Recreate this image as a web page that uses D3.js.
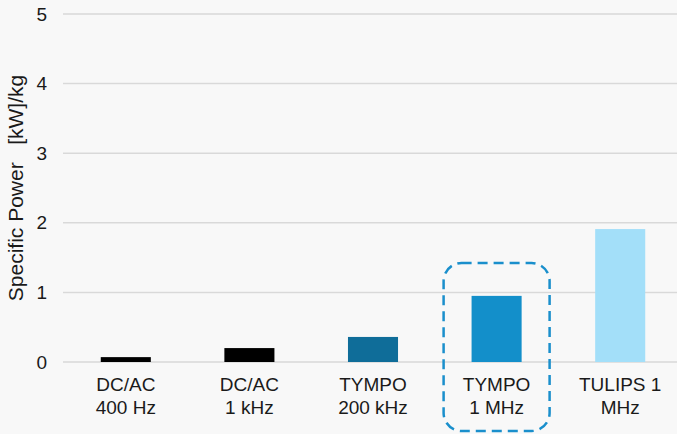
<!DOCTYPE html>
<html>
<head>
<meta charset="utf-8">
<script src="https://cdn.jsdelivr.net/npm/d3@7"></script>
<style>
  html, body { margin: 0; padding: 0; background: #f8f8f8; }
  svg { display: block; font-family: "Liberation Sans", Arial, sans-serif; }
</style>
</head>
<body>
<svg id="chart" width="677" height="434"></svg>
<script>
  const categories = [
    ["DC/AC", "400 Hz"],
    ["DC/AC", "1 kHz"],
    ["TYMPO", "200 kHz"],
    ["TYMPO", "1 MHz"],
    ["TULIPS 1", "MHz"]
  ];
  const values = [0.07, 0.2, 0.36, 0.95, 1.91];
  const barColors = ["#000000", "#000000", "#0f6d99", "#138fca", "#a3dff9"];
  const yTicks = [0, 1, 2, 3, 4, 5];
  const highlighted = 3; // index of the boxed bar

  const svg = d3.select("#chart");

  const x = d3.scaleBand()
    .domain(d3.range(categories.length))
    .range([64, 682])
    .paddingInner(0.595)
    .paddingOuter(0.2975);

  const y = d3.scaleLinear()
    .domain([0, 5])
    .range([362, 14]);

  // gridlines
  svg.append("g")
    .selectAll("line")
    .data(yTicks)
    .join("line")
    .attr("x1", 63)
    .attr("x2", 677)
    .attr("y1", d => y(d))
    .attr("y2", d => y(d))
    .attr("stroke", "#d9d9d9")
    .attr("stroke-width", 1.5);

  // y tick labels
  svg.append("g")
    .selectAll("text")
    .data(yTicks)
    .join("text")
    .attr("x", 47)
    .attr("y", d => y(d))
    .attr("dy", "0.35em")
    .attr("text-anchor", "end")
    .style("font-size", "19px")
    .style("fill", "#1a1a1a")
    .text(d => d);

  // y axis title
  svg.append("text")
    .attr("transform", "translate(23, 188) rotate(-90)")
    .attr("text-anchor", "middle")
    .style("font-size", "21px")
    .style("fill", "#1a1a1a")
    .style("white-space", "pre")
    .text("Specific Power   [kW]/kg");

  // bars
  svg.append("g")
    .selectAll("rect")
    .data(values)
    .join("rect")
    .attr("x", (d, i) => x(i))
    .attr("width", x.bandwidth())
    .attr("y", d => y(d))
    .attr("height", d => y(0) - y(d))
    .attr("fill", (d, i) => barColors[i]);

  // category labels
  const labels = svg.append("g")
    .selectAll("text")
    .data(categories)
    .join("text")
    .attr("x", (d, i) => x(i) + x.bandwidth() / 2)
    .attr("y", 391)
    .attr("text-anchor", "middle")
    .style("font-size", "19px")
    .style("fill", "#1a1a1a");

  labels.selectAll("tspan")
    .data(d => d)
    .join("tspan")
    .attr("x", function () { return this.parentNode.getAttribute("x"); })
    .attr("dy", (d, i) => i === 0 ? 0 : 23)
    .text(d => d);

  // dashed highlight box
  const cx = x(highlighted) + x.bandwidth() / 2;
  svg.append("rect")
    .attr("x", cx - 53)
    .attr("y", 263)
    .attr("width", 106)
    .attr("height", 168)
    .attr("rx", 18)
    .attr("fill", "none")
    .attr("stroke", "#1a8fcc")
    .attr("stroke-width", 2.5)
    .attr("stroke-dasharray", "10,6");
</script>
</body>
</html>
